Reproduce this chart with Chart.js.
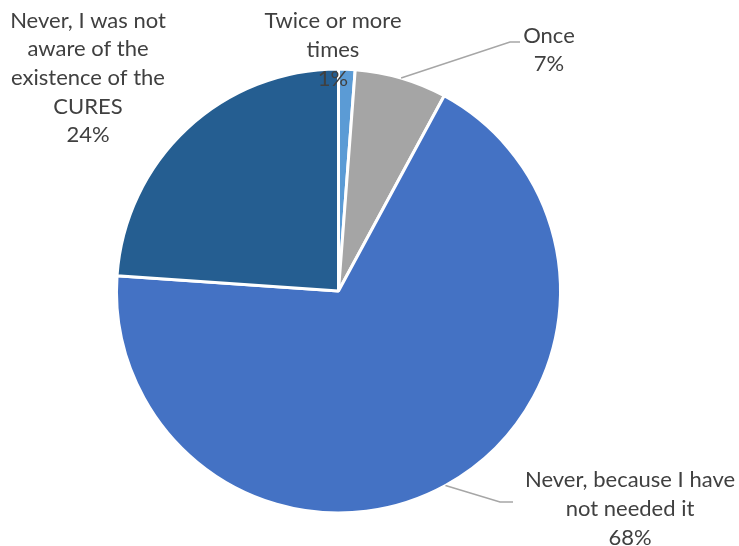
<!DOCTYPE html>
<html lang="en">
<head>
    <meta charset="UTF-8">
    <title>CURES usage</title>
    <script src="https://cdn.jsdelivr.net/npm/chart.js"></script>
    <style>
        body {
            margin: 0;
            background: #ffffff;
        }
        #wrap {
            width: 739px;
            height: 546px;
        }
    </style>
</head>
<body>
    <div id="wrap"><canvas id="pieChart"></canvas></div>

    <script>
        // slice data, clockwise from 12 o'clock
        const categories = [
            'Twice or more times',
            'Once',
            'Never, because I have not needed it',
            'Never, I was not aware of the existence of the CURES'
        ];
        const shares = [1.2, 6.7, 68.2, 23.9];
        const percentLabels = ['1%', '7%', '68%', '24%'];
        const labelLines = [
            ['Twice or more', 'times'],
            ['Once'],
            ['Never, because I have', 'not needed it'],
            ['Never, I was not', 'aware of the', 'existence of the', 'CURES']
        ];
        const sliceColors = ['#5B9BD5', '#A5A5A5', '#4472C4', '#255E91'];

        // label placement relative to the pie centre (block centre), plus leader elbow
        const labelPos = [
            { dx: -5.5, dy: -241, elbow: null },
            { dx: 210.5, dy: -241, elbow: [171.5, -249, 181.5] },
            { dx: 291.5, dy: 218, elbow: [161.5, 211, 174.5] },
            { dx: -250.5, dy: -213, elbow: null }
        ];

        const lineHeight = 28.6;
        const labelFont = '22px Lato, "Open Sans", sans-serif';

        const pieLabels = {
            id: 'pieLabels',
            afterDatasetsDraw(chart) {
                const ctx = chart.ctx;
                const arcs = chart.getDatasetMeta(0).data;
                ctx.save();
                arcs.forEach((arc, i) => {
                    const p = arc.getProps(['x', 'y', 'startAngle', 'endAngle', 'outerRadius'], true);
                    const mid = (p.startAngle + p.endAngle) / 2;
                    const pos = labelPos[i];

                    if (pos.elbow) {
                        const ex = p.x + Math.cos(mid) * p.outerRadius;
                        const ey = p.y + Math.sin(mid) * p.outerRadius;
                        ctx.strokeStyle = '#A6A6A6';
                        ctx.lineWidth = 1.5;
                        ctx.beginPath();
                        ctx.moveTo(ex, ey);
                        ctx.lineTo(p.x + pos.elbow[0], p.y + pos.elbow[1]);
                        ctx.lineTo(p.x + pos.elbow[2], p.y + pos.elbow[1]);
                        ctx.stroke();
                    }

                    const lines = labelLines[i].concat([percentLabels[i]]);
                    const cx = p.x + pos.dx;
                    const top = p.y + pos.dy - (lines.length - 1) * lineHeight / 2;
                    ctx.font = labelFont;
                    ctx.fillStyle = '#404040';
                    ctx.textAlign = 'center';
                    ctx.textBaseline = 'middle';
                    lines.forEach((t, k) => ctx.fillText(t, cx, top + k * lineHeight));
                });
                ctx.restore();
            }
        };

        const ctx = document.getElementById('pieChart').getContext('2d');
        const chart = new Chart(ctx, {
            type: 'pie',
            data: {
                labels: categories,
                datasets: [{
                    data: shares,
                    backgroundColor: sliceColors,
                    borderColor: '#ffffff',
                    borderWidth: 3
                }]
            },
            options: {
                responsive: true,
                maintainAspectRatio: false,
                animation: false,
                radius: 222,
                layout: {
                    padding: { left: 0, right: 62, top: 36, bottom: 0 }
                },
                plugins: {
                    legend: { display: false },
                    tooltip: { enabled: false }
                }
            },
            plugins: [pieLabels]
        });
    </script>
</body>
</html>
